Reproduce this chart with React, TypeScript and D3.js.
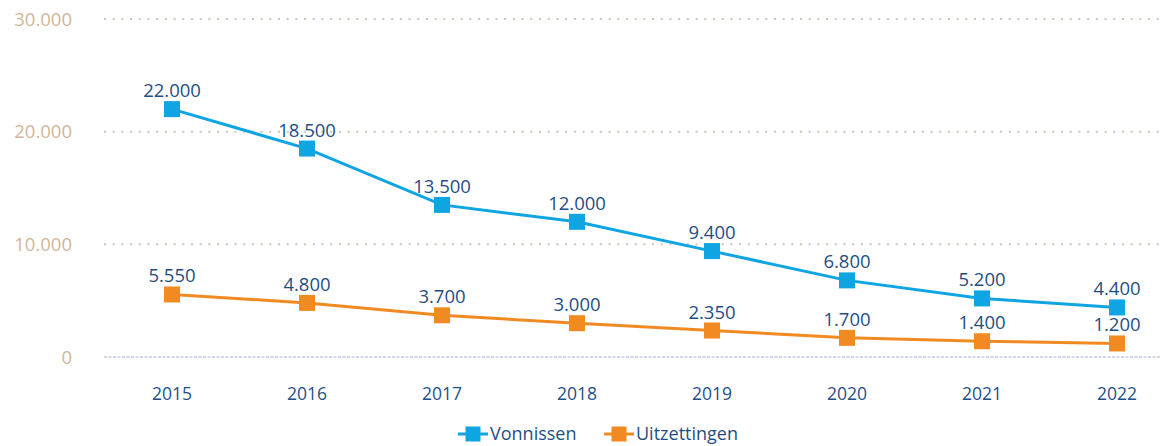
import React from "react";
import * as d3 from "d3";

const years = ["2015", "2016", "2017", "2018", "2019", "2020", "2021", "2022"];
const vonnissen = [22000, 18500, 13500, 12000, 9400, 6800, 5200, 4400];
const uitzettingen = [5550, 4800, 3700, 3000, 2350, 1700, 1400, 1200];
const yTicks = [0, 10000, 20000, 30000];

const W = 1161;
const H = 446;
const fmt = (v: number) => d3.format(",")(v).replace(/,/g, ".");

export default function App() {
  const x = d3.scalePoint<string>().domain(years).range([172, 1117]);
  const y = d3.scaleLinear().domain([0, 30000]).range([357, 19]);
  const line = d3
    .line<number>()
    .x((_, i) => x(years[i]) as number)
    .y((d) => y(d));
  const font = "'Open Sans', 'Noto Sans', sans-serif";
  const series = [
    { name: "Vonnissen", values: vonnissen, color: "#0ea5e2" },
    { name: "Uitzettingen", values: uitzettingen, color: "#f28a22" },
  ];
  const ms = 16;
  return (
    <svg
      width={W}
      height={H}
      style={{ position: "absolute", left: 0, top: 0, background: "#fff" }}
      fontFamily={font}
    >
      {yTicks.map((t) => (
        <g key={t}>
          <line
            x1={104}
            x2={W}
            y1={y(t)}
            y2={y(t)}
            stroke={t === 0 ? "#c3c9df" : "#cdc4ba"}
            strokeWidth={t === 0 ? 1.5 : 2}
            strokeDasharray={t === 0 ? "3 1.5" : "2 6.7"}
          />
          <text
            x={72}
            y={y(t)}
            dy="0.36em"
            textAnchor="end"
            fontSize={18.5}
            fill="#d0b699"
          >
            {fmt(t)}
          </text>
        </g>
      ))}
      {years.map((yr) => (
        <text
          key={yr}
          x={x(yr)}
          y={400}
          textAnchor="middle"
          fontSize={17.5}
          fontWeight={500}
          fill="#1f5189"
        >
          {yr}
        </text>
      ))}
      {series.map((s) => (
        <g key={s.name}>
          <path d={line(s.values) || ""} fill="none" stroke={s.color} strokeWidth={3} />
          {s.values.map((v, i) => (
            <g key={i}>
              <rect
                x={(x(years[i]) as number) - ms / 2}
                y={y(v) - ms / 2}
                width={ms}
                height={ms}
                fill={s.color}
              />
              <text
                x={x(years[i])}
                y={y(v) - 12}
                textAnchor="middle"
                fontSize={18.5}
                fill="#1f4f82"
              >
                {fmt(v)}
              </text>
            </g>
          ))}
        </g>
      ))}
      {series.map((s, i) => {
        const lx = i === 0 ? 458 : 604;
        const ly = 434;
        return (
          <g key={s.name}>
            <line x1={lx} x2={lx + 30} y1={ly} y2={ly} stroke={s.color} strokeWidth={3} />
            <rect x={lx + 15 - 7.5} y={ly - 7.5} width={15} height={15} fill={s.color} />
            <text x={lx + 32} y={ly} dy="0.36em" fontSize={18} fill="#1f4f82">
              {s.name}
            </text>
          </g>
        );
      })}
    </svg>
  );
}
